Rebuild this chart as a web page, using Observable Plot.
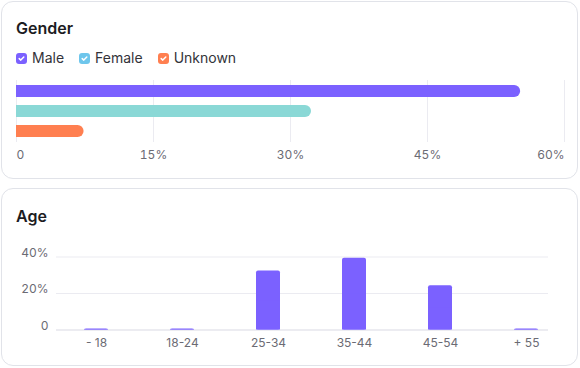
<!DOCTYPE html>
<html><head><meta charset="utf-8">
<script src="https://cdn.jsdelivr.net/npm/d3@7"></script>
<script src="https://cdn.jsdelivr.net/npm/@observablehq/plot@0.6"></script>
<style>
body{margin:0;background:#fff;font-family:Inter,"Noto Sans",sans-serif;}
#page{position:relative;width:580px;height:368px;overflow:hidden;background:#fff;}
.card{position:absolute;left:1px;width:577px;height:178px;box-sizing:border-box;border:1px solid #e1e3e9;border-radius:12px;background:#fff;}
.title{position:absolute;left:16px;font-size:16px;line-height:16px;font-weight:600;color:#1c1c22;}
#legend{position:absolute;left:16px;top:51px;display:flex;gap:15px;font-size:14px;line-height:14px;color:#33333a;}
.item{display:flex;align-items:center;gap:5px;}
.chart{position:absolute;left:0;}
</style></head>
<body><div id="page">
<div class="card" style="top:1px"></div>
<div class="card" style="top:188px"></div>
<div class="title" style="top:20px">Gender</div>
<div id="legend"></div>
<div class="chart" id="g1" style="top:75px"></div>
<div class="title" style="top:208px">Age</div>
<div class="chart" id="g2" style="top:240px"></div>
</div>
<script>
const genders = ["Male", "Female", "Unknown"];
const genderShare = [55.2, 32.3, 7.4];
const genderBarColors = ["#7B61FF", "#8AD8D6", "#FF7F50"];
const genderLegendColors = ["#7B61FF", "#6EC6EC", "#FF7F50"];
const genderTicks = [0, 15, 30, 45, 60];

const ageGroups = ["- 18", "18-24", "25-34", "35-44", "45-54", "+ 55"];
const ageShare = [0.5, 0.5, 32.3, 39.3, 24.3, 0.5];
const ageTicks = [0, 20, 40];
const ageColor = "#7B61FF";

const pct = d => d === 0 ? "0" : d + "%";

// legend
const legend = document.getElementById("legend");
genders.forEach((g, i) => {
  const it = document.createElement("div");
  it.className = "item";
  it.innerHTML = `<svg width="11" height="11" viewBox="0 0 11 11"><rect width="11" height="11" rx="3" fill="${genderLegendColors[i]}"/><path d="M3.2 5.6 L4.8 7.1 L7.8 4" fill="none" stroke="#fff" stroke-width="1.5" stroke-linecap="round" stroke-linejoin="round"/></svg><span>${g}</span>`;
  legend.appendChild(it);
});

const gData = genders.map((g, i) => ({g, v: genderShare[i]}));
const axisStyle = {tickSize: 0, tickPadding: 8, fill: "#6b6b74", fontSize: 12, label: null, tickFormat: pct};
const g1 = Plot.plot({
  width: 580, height: 95,
  marginLeft: 16, marginRight: 16, marginTop: 5, marginBottom: 28,
  style: {fontFamily: "Inter, sans-serif", fontSize: "12px", background: "transparent"},
  x: {domain: [0, 60]},
  y: {domain: genders, paddingInner: 0.4, paddingOuter: 0.25, axis: null},
  color: {domain: genders, range: genderBarColors},
  marks: [
    Plot.gridX(genderTicks, {stroke: "#ebebf1", strokeOpacity: 1}),
    Plot.barX(gData, {x1: 0, x2: "v", y: "g", fill: "g", rx: 6}),
    Plot.barX(gData, {x1: 0, x2: d => d.v / 2, y: "g", fill: "g"}),
    Plot.axisX(genderTicks.slice(0, 1), {...axisStyle, textAnchor: "start"}),
    Plot.axisX(genderTicks.slice(1, -1), {...axisStyle}),
    Plot.axisX(genderTicks.slice(-1), {...axisStyle, textAnchor: "end"})
  ]
});
document.getElementById("g1").appendChild(g1);

const aData = ageGroups.map((a, i) => ({a, v: ageShare[i]}));
const g2 = Plot.plot({
  width: 580, height: 120,
  marginLeft: 56, marginRight: 32, marginTop: 16.5, marginBottom: 30.5,
  style: {fontFamily: "Inter, sans-serif", fontSize: "12px", background: "transparent"},
  x: {domain: ageGroups, paddingInner: 0.722, paddingOuter: 0.208, align: 0.722},
  y: {domain: [0, 40]},
  marks: [
    Plot.gridY(ageTicks.slice(1), {stroke: "#ebebf1", strokeOpacity: 1}),
    Plot.ruleY(ageTicks.slice(0, 1), {stroke: "#d9d9e3"}),
    Plot.barY(aData, {x: "a", y1: 0, y2: "v", fill: ageColor, rx: 2}),
    Plot.barY(aData, {x: "a", y1: 0, y2: d => d.v / 2, fill: ageColor}),
    Plot.axisX({tickSize: 0, tickPadding: 8, fill: "#6b6b74", fontSize: 12, label: null}),
    Plot.axisY(ageTicks, {...axisStyle, dy: -4})
  ]
});
document.getElementById("g2").appendChild(g2);
</script>
</body></html>
